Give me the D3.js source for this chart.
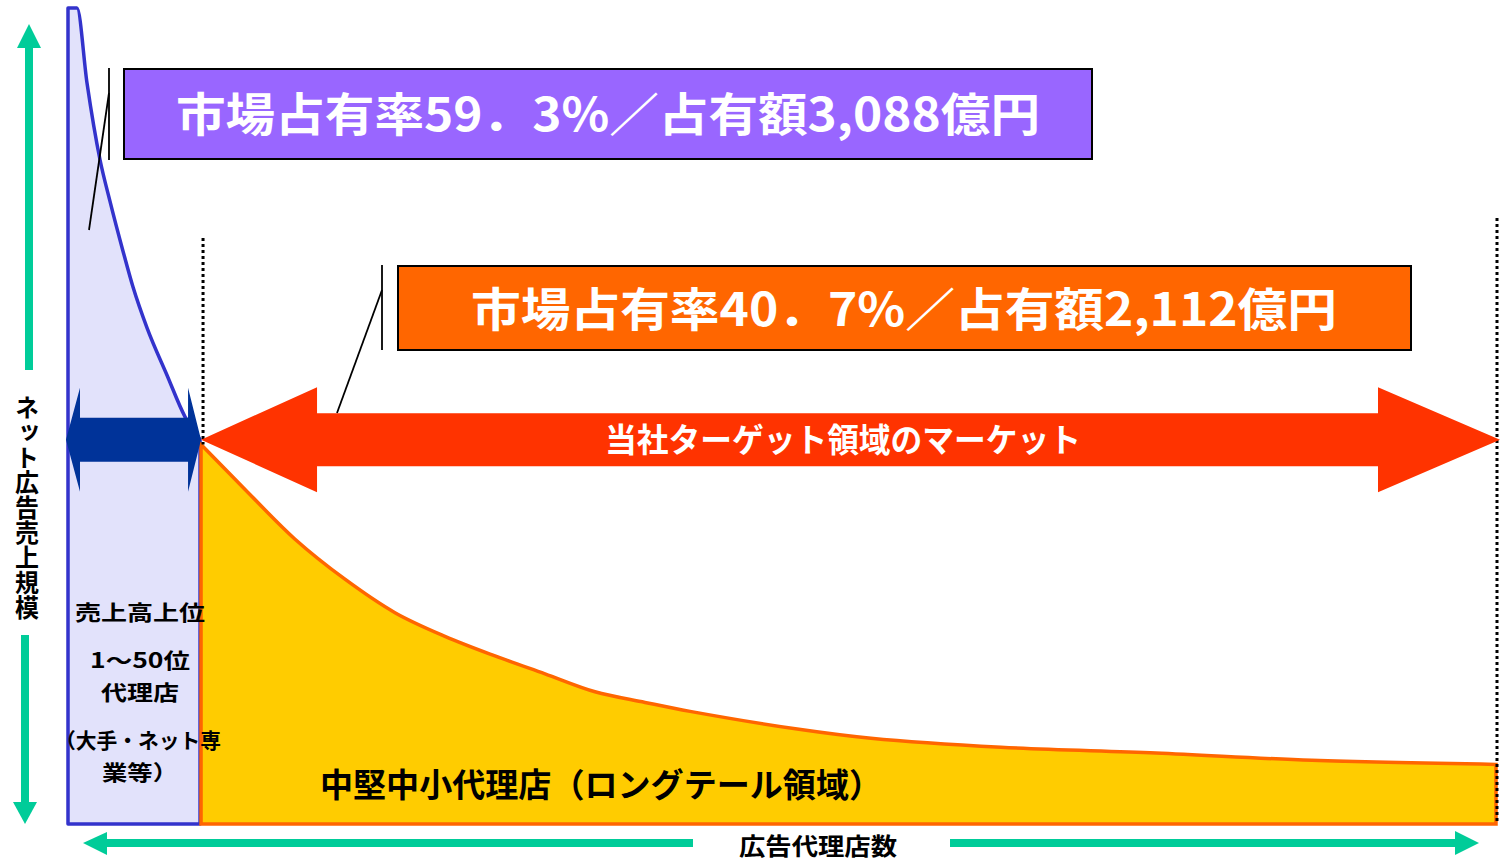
<!DOCTYPE html>
<html><head><meta charset="utf-8">
<script src="https://cdn.jsdelivr.net/npm/d3@7"></script>
<style>
html,body{margin:0;padding:0;background:#fff;}
svg{display:block;}
text{font-family:"Noto Sans CJK JP","Noto Sans",sans-serif;font-weight:700;}
</style></head>
<body>
<svg id="c" width="1501" height="861"></svg>
<script>
// ---- data (agency rank share of the x-axis 0-100, sales scale 0-100) ----
const headRank  = [0, 0.63, 1.33, 2.24, 2.94, 3.85, 4.55, 5.53, 6.93, 8.19, 9.24];
const headSales = [100, 100, 90.8, 81.4, 76.3, 70.2, 65.8, 60.8, 55.0, 49.9, 47.1];
const tailRank  = [9.31, 12.39, 15.89, 19.38, 22.88, 26.38, 29.88, 33.38, 36.88, 40.38, 43.53, 51.15, 56.19, 65.29, 76.14, 87.05, 99.93];
const tailSales = [46.5, 41.0, 34.9, 30.0, 25.9, 23.0, 20.6, 18.4, 16.2, 14.9, 13.8, 11.6, 10.5, 9.4, 8.7, 7.8, 7.3];

const headShareLabel = "市場占有率59．3%／占有額3,088億円";
const tailShareLabel = "市場占有率40．7%／占有額2,112億円";
const targetLabel = "当社ターゲット領域のマーケット";
const headLabels = ["売上高上位", "1～50位", "代理店", "（大手・ネット専", "業等）"];
const tailLabel = "中堅中小代理店（ロングテール領域）";
const yAxisLabel = "ネット広告売上規模";
const xAxisLabel = "広告代理店数";

// ---- scales ----
const x = d3.scaleLinear().domain([0, 100]).range([68, 1497]);
const y = d3.scaleLinear().domain([0, 100]).range([824, 8]);

const svg = d3.select("#c");

const head = headRank.map((r, i) => ({r, s: headSales[i]}));
const tail = tailRank.map((r, i) => ({r, s: tailSales[i]}));

const headArea = d3.area().x(d => x(d.r)).y0(y(0)).y1(d => y(d.s)).curve(d3.curveMonotoneX);
const tailArea = d3.area().x(d => x(d.r)).y0(y(0)).y1(d => y(d.s)).curve(d3.curveCatmullRom.alpha(0.5));

// head (top 50 agencies)
svg.append("path").datum(head).attr("d", headArea)
  .attr("fill", "#e2e2fb").attr("stroke", "#3333cc").attr("stroke-width", 3.5)
  .attr("stroke-linejoin", "round");

// tail (long tail)
svg.append("path").datum(tail).attr("d", tailArea)
  .attr("fill", "#ffcc00").attr("stroke", "#ff6600").attr("stroke-width", 3.5)
  .attr("stroke-linejoin", "miter");

// dotted boundary lines
const tailStart = tail[0];
svg.append("line").attr("x1", x(tailStart.r) + 2).attr("x2", x(tailStart.r) + 2)
  .attr("y1", 238).attr("y2", y(tailStart.s))
  .attr("stroke", "#000").attr("stroke-width", 3).attr("stroke-dasharray", "3,3");
svg.append("line").attr("x1", x(100)).attr("x2", x(100))
  .attr("y1", 218).attr("y2", y(0))
  .attr("stroke", "#000").attr("stroke-width", 3).attr("stroke-dasharray", "3,3");

// double arrow helper
function dblArrow(x1, x2, cy, sh, hh, hl1, hl2, color) {
  const p = [
    [x1, cy], [x1 + hl1, cy - hh], [x1 + hl1, cy - sh], [x2 - hl2, cy - sh], [x2 - hl2, cy - hh],
    [x2, cy], [x2 - hl2, cy + hh], [x2 - hl2, cy + sh], [x1 + hl1, cy + sh], [x1 + hl1, cy + hh]
  ];
  svg.append("polygon").attr("points", p.map(d => d.join(",")).join(" ")).attr("fill", color);
}
const cy = y(headSales[headSales.length - 1]);
dblArrow(x(0) - 2, x(headRank[headRank.length - 1]) + 1, cy, 22, 52, 14, 13, "#003399");
dblArrow(x(tailStart.r), x(100) + 3, cy, 26.5, 52.5, 116, 122, "#ff3300");

svg.append("text").attr("x", 843).attr("y", cy + 12).attr("text-anchor", "middle")
  .attr("fill", "#fff").attr("font-size", 33)
  .attr("textLength", 476).attr("lengthAdjust", "spacingAndGlyphs").text(targetLabel);

// callout lines
function line(a, b, c, d) {
  svg.append("line").attr("x1", a).attr("y1", b).attr("x2", c).attr("y2", d)
    .attr("stroke", "#000").attr("stroke-width", 1.8);
}
line(109, 68, 109, 160); line(109, 93, 89, 230);
line(382, 265, 382, 350); line(382, 290, 337, 413);

// share boxes
svg.append("rect").attr("x", 124).attr("y", 69).attr("width", 968).attr("height", 90)
  .attr("fill", "#9966ff").attr("stroke", "#000").attr("stroke-width", 2);
svg.append("text").attr("x", 608).attr("y", 131).attr("text-anchor", "middle")
  .attr("fill", "#fff").attr("font-size", 46)
  .attr("textLength", 864).attr("lengthAdjust", "spacingAndGlyphs").text(headShareLabel);

svg.append("rect").attr("x", 398).attr("y", 266).attr("width", 1013).attr("height", 84)
  .attr("fill", "#ff6600").attr("stroke", "#000").attr("stroke-width", 2);
svg.append("text").attr("x", 904).attr("y", 326).attr("text-anchor", "middle")
  .attr("fill", "#fff").attr("font-size", 46)
  .attr("textLength", 866).attr("lengthAdjust", "spacingAndGlyphs").text(tailShareLabel);

// head labels
const headY = [612, 660, 692, 740, 772];
const headW = [130, 100, 78, 166, 76];
headLabels.forEach((t, i) => {
  svg.append("text").attr("x", i === 3 ? 138 : 140).attr("y", headY[i] + 8)
    .attr("text-anchor", "middle").attr("fill", "#000").attr("font-size", 21)
    .attr("textLength", headW[i]).attr("lengthAdjust", "spacingAndGlyphs").text(t);
});

// tail label
svg.append("text").attr("x", 601).attr("y", 797).attr("text-anchor", "middle")
  .attr("fill", "#000").attr("font-size", 33)
  .attr("textLength", 562).attr("lengthAdjust", "spacingAndGlyphs").text(tailLabel);

// axis arrows (green)
const green = "#00cc99";
svg.append("rect").attr("x", 25).attr("y", 46).attr("width", 8).attr("height", 324).attr("fill", green);
svg.append("polygon").attr("points", "29,24 41,48 17,48").attr("fill", green);
svg.append("rect").attr("x", 21).attr("y", 635).attr("width", 8).attr("height", 170).attr("fill", green);
svg.append("polygon").attr("points", "25,824 37,802 13,802").attr("fill", green);
svg.append("rect").attr("x", 105).attr("y", 839).attr("width", 588).attr("height", 8).attr("fill", green);
svg.append("polygon").attr("points", "83,843 107,832 107,855").attr("fill", green);
svg.append("rect").attr("x", 950).attr("y", 839).attr("width", 507).attr("height", 8).attr("fill", green);
svg.append("polygon").attr("points", "1479,843 1455,831 1455,855").attr("fill", green);

// axis labels
svg.append("text").attr("x", 818).attr("y", 855).attr("text-anchor", "middle")
  .attr("fill", "#000").attr("font-size", 24)
  .attr("textLength", 158).attr("lengthAdjust", "spacingAndGlyphs").text(xAxisLabel);

svg.append("text").attr("x", 27).attr("y", 395)
  .attr("fill", "#000").attr("font-size", 24)
  .style("writing-mode", "vertical-rl").style("text-orientation", "upright")
  .attr("textLength", 225).attr("lengthAdjust", "spacingAndGlyphs")
  .text(yAxisLabel);
</script>
</body></html>
